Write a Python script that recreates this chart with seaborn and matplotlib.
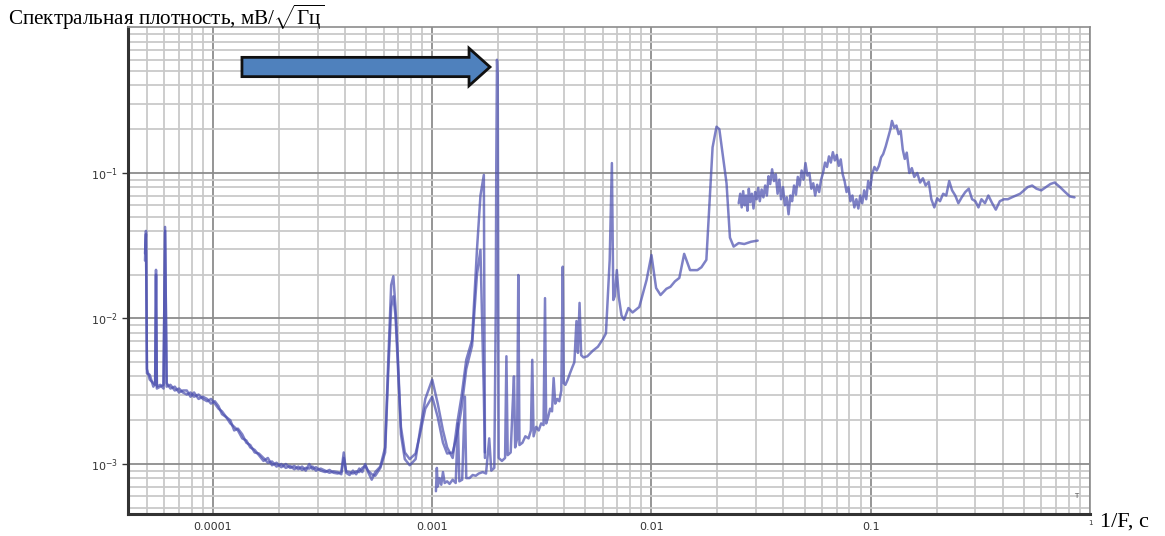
import numpy as np
import pandas as pd
import matplotlib
matplotlib.use('Agg')
import matplotlib.pyplot as plt
import matplotlib.ticker as mticker
from matplotlib.patches import FancyArrow
import seaborn as sns

# low-period part, two overlapping records
low_x = [4.90e-5, 4.95e-5, 5.00e-5, 5.15e-5, 5.35e-5, 5.45e-5, 5.50e-5, 5.55e-5, 5.75e-5, 5.95e-5,
         6.05e-5, 6.15e-5, 6.4e-5, 6.7e-5, 7.0e-5, 7.3e-5, 7.6e-5, 7.9e-5, 8.2e-5, 8.6e-5,
         9.0e-5, 9.4e-5, 9.8e-5, 1.02e-4, 1.06e-4, 1.10e-4, 1.15e-4, 1.20e-4, 1.25e-4, 1.30e-4,
         1.36e-4, 1.42e-4, 1.48e-4, 1.55e-4, 1.62e-4, 1.70e-4, 1.78e-4, 1.86e-4, 1.95e-4, 2.05e-4,
         2.15e-4, 2.25e-4, 2.35e-4, 2.45e-4, 2.55e-4, 2.65e-4, 2.75e-4, 2.85e-4, 2.95e-4, 3.1e-4,
         3.25e-4, 3.4e-4, 3.55e-4, 3.7e-4, 3.85e-4, 3.95e-4, 4.05e-4, 4.2e-4, 4.35e-4, 4.5e-4,
         4.65e-4, 4.8e-4, 4.95e-4, 5.1e-4, 5.3e-4, 5.5e-4, 5.8e-4, 6.1e-4, 6.3e-4, 6.5e-4,
         6.65e-4, 6.8e-4, 7.0e-4, 7.2e-4, 7.5e-4, 7.9e-4, 8.4e-4, 8.8e-4, 9.3e-4, 1.0e-3,
         1.06e-3, 1.12e-3, 1.17e-3, 1.24e-3, 1.30e-3, 1.36e-3, 1.43e-3, 1.52e-3, 1.60e-3, 1.66e-3,
         1.72e-3, 1.74e-3]
low_a = [0.025, 0.040, 0.0045, 0.0038, 0.0036, 0.0035, 0.0216, 0.0034, 0.0035, 0.0033,
         0.0426, 0.0034, 0.0035, 0.0032, 0.0033, 0.0031, 0.0030, 0.0031, 0.0029, 0.0030,
         0.0028, 0.0027, 0.0028, 0.0026, 0.0024, 0.0023, 0.0021, 0.0019, 0.0018, 0.0017,
         0.0015, 0.00145, 0.0013, 0.00125, 0.00115, 0.00105, 0.0011, 0.00098, 0.00102, 0.00095,
         0.0010, 0.00094, 0.00097, 0.00092, 0.00096, 0.00090, 0.0010, 0.00092, 0.00095, 0.00090,
         0.00088, 0.00091, 0.00087, 0.00086, 0.00088, 0.0012, 0.00087, 0.00084, 0.00090, 0.00085,
         0.00093, 0.00088, 0.0010, 0.00088, 0.00078, 0.00088, 0.00096, 0.0013, 0.0050, 0.0170,
         0.0195, 0.0120, 0.0048, 0.0016, 0.00108, 0.00098, 0.00108, 0.0017, 0.0028, 0.0038,
         0.0026, 0.0017, 0.0013, 0.0011, 0.0019, 0.0029, 0.0052, 0.0071, 0.0296, 0.0700,
         0.0970, 0.0012]
low_b = [0.028, 0.038, 0.0042, 0.0041, 0.0034, 0.0036, 0.0200, 0.0033, 0.0034, 0.0035,
         0.0400, 0.0036, 0.0033, 0.0034, 0.0031, 0.0032, 0.0032, 0.0029, 0.0031, 0.0028,
         0.0029, 0.0028, 0.0026, 0.0027, 0.0025, 0.0022, 0.0021, 0.0020, 0.0017, 0.00175,
         0.0016, 0.0014, 0.00135, 0.0012, 0.00118, 0.0011, 0.00102, 0.00104, 0.00096, 0.0010,
         0.00094, 0.00097, 0.00092, 0.00096, 0.00091, 0.00094, 0.00093, 0.00096, 0.00090, 0.00093,
         0.00090, 0.00087, 0.00089, 0.00088, 0.00085, 0.0011, 0.00089, 0.00088, 0.00086, 0.00089,
         0.00088, 0.00094, 0.00097, 0.00090, 0.00085, 0.00083, 0.00094, 0.0012, 0.0042, 0.0120,
         0.0142, 0.0105, 0.0042, 0.0018, 0.0012, 0.00108, 0.00118, 0.0016, 0.0024, 0.0029,
         0.0021, 0.0014, 0.00118, 0.0012, 0.0016, 0.0024, 0.0045, 0.0065, 0.0200, 0.0296,
         0.0030, 0.0011]

# middle record
mid_x = [1.04e-3, 1.05e-3, 1.06e-3, 1.08e-3, 1.10e-3, 1.12e-3, 1.14e-3, 1.17e-3, 1.20e-3, 1.24e-3,
         1.28e-3, 1.31e-3, 1.33e-3, 1.37e-3, 1.41e-3, 1.43e-3, 1.48e-3, 1.53e-3, 1.58e-3, 1.63e-3,
         1.70e-3, 1.76e-3, 1.82e-3, 1.86e-3, 1.92e-3, 1.95e-3, 1.96e-3, 1.975e-3, 1.99e-3, 2.01e-3,
         2.08e-3, 2.15e-3, 2.18e-3, 2.21e-3, 2.28e-3, 2.33e-3, 2.36e-3, 2.39e-3, 2.44e-3, 2.47e-3,
         2.50e-3, 2.58e-3, 2.66e-3, 2.75e-3, 2.82e-3, 2.86e-3, 2.90e-3, 2.98e-3, 3.06e-3, 3.14e-3,
         3.22e-3, 3.27e-3, 3.31e-3, 3.38e-3, 3.45e-3, 3.52e-3, 3.58e-3, 3.64e-3, 3.72e-3, 3.80e-3,
         3.88e-3, 3.94e-3, 3.98e-3, 4.05e-3, 4.15e-3, 4.25e-3, 4.35e-3, 4.45e-3, 4.55e-3, 4.62e-3,
         4.70e-3, 4.78e-3, 4.90e-3, 5.1e-3, 5.4e-3, 5.7e-3, 6.0e-3, 6.2e-3, 6.45e-3, 6.6e-3,
         6.7e-3, 6.8e-3, 6.95e-3, 7.1e-3, 7.3e-3, 7.5e-3, 7.85e-3, 8.2e-3, 8.8e-3, 9.5e-3,
         1.0e-2, 1.05e-2, 1.10e-2, 1.17e-2, 1.22e-2, 1.28e-2, 1.34e-2, 1.41e-2, 1.50e-2, 1.62e-2,
         1.69e-2, 1.78e-2, 1.90e-2, 1.98e-2, 2.04e-2, 2.20e-2, 2.28e-2, 2.37e-2, 2.50e-2, 2.65e-2,
         2.85e-2, 3.05e-2]
mid_y = [6.5e-4, 9.4e-4, 7.0e-4, 8.0e-4, 7.2e-4, 8.8e-4, 7.4e-4, 7.6e-4, 7.3e-4, 7.8e-4,
         7.4e-4, 1.9e-3, 7.6e-4, 7.8e-4, 2.9e-3, 8.0e-4, 8.0e-4, 8.4e-4, 8.3e-4, 8.6e-4,
         8.8e-4, 8.6e-4, 1.5e-3, 9.0e-4, 9.4e-4, 0.012, 0.11, 0.60, 0.45, 1.1e-3,
         1.05e-3, 1.1e-3, 5.5e-3, 1.15e-3, 1.2e-3, 2.6e-3, 4.0e-3, 1.3e-3, 1.5e-3, 0.0199,
         1.35e-3, 1.4e-3, 1.55e-3, 1.5e-3, 1.7e-3, 5.2e-3, 1.55e-3, 1.8e-3, 1.7e-3, 1.9e-3,
         1.85e-3, 0.0138, 1.9e-3, 2.1e-3, 2.4e-3, 2.3e-3, 3.9e-3, 2.6e-3, 2.8e-3, 2.7e-3,
         3.2e-3, 0.0227, 3.6e-3, 3.5e-3, 3.8e-3, 4.2e-3, 4.6e-3, 5.0e-3, 9.6e-3, 5.8e-3,
         0.0128, 5.6e-3, 5.4e-3, 5.5e-3, 6.0e-3, 6.4e-3, 7.2e-3, 7.9e-3, 0.0253, 0.117,
         0.0134, 0.0142, 0.0215, 0.0140, 0.0105, 0.0098, 0.0118, 0.0110, 0.0120, 0.0184,
         0.0273, 0.0162, 0.0145, 0.0160, 0.0165, 0.0180, 0.0190, 0.0278, 0.0215, 0.0215,
         0.0225, 0.0253, 0.150, 0.208, 0.200, 0.085, 0.036, 0.0312, 0.0330, 0.0325,
         0.0337, 0.0343]

# long-period record
hi_x = [0.0250, 0.0254, 0.0258, 0.0262, 0.0266, 0.0270, 0.0274, 0.0278, 0.0282, 0.0287,
        0.0292, 0.0297, 0.0302, 0.0307, 0.0312, 0.0318, 0.0324, 0.0330, 0.0336, 0.0342,
        0.0348, 0.0355, 0.0362, 0.0369, 0.0376, 0.0383, 0.0390, 0.0398, 0.0406, 0.0414,
        0.0422, 0.0430, 0.0438, 0.0447, 0.0456, 0.0465, 0.0474, 0.0484, 0.0494, 0.0504,
        0.0514, 0.0525, 0.0536, 0.0547, 0.0558, 0.0570, 0.0582, 0.0594, 0.0606, 0.0619,
        0.0632, 0.0645, 0.0658, 0.0672, 0.0686, 0.0700, 0.0715, 0.0730, 0.0745, 0.0760,
        0.0776, 0.0792, 0.0808, 0.0825, 0.0842, 0.0860, 0.0878, 0.0896, 0.0915, 0.0934,
        0.0954, 0.0974, 0.0994, 0.1015, 0.1040, 0.1065, 0.1090, 0.1115, 0.1140, 0.1170,
        0.1200, 0.1230, 0.1250, 0.1280, 0.1310, 0.1340, 0.1370, 0.1400, 0.1430, 0.1460,
        0.1500, 0.1540, 0.1580, 0.1630, 0.1680, 0.1730, 0.1780, 0.1840, 0.1890, 0.1950,
        0.2010, 0.2070, 0.2140, 0.2210, 0.2280, 0.2350, 0.2430, 0.2510, 0.2600, 0.2700,
        0.2800, 0.2900, 0.3000, 0.3100, 0.3200, 0.3320, 0.3440, 0.3580, 0.3720, 0.3880,
        0.4050, 0.4220, 0.4400, 0.4600, 0.4800, 0.5000, 0.5200, 0.5450, 0.5700, 0.6000,
        0.6300, 0.6600, 0.6900, 0.7300, 0.7700, 0.8100, 0.8500]
hi_y = [0.062, 0.072, 0.058, 0.075, 0.060, 0.070, 0.055, 0.078, 0.063, 0.072,
        0.057, 0.074, 0.066, 0.079, 0.064, 0.077, 0.068, 0.082, 0.070, 0.095,
        0.084, 0.106, 0.088, 0.098, 0.072, 0.090, 0.066, 0.080, 0.060, 0.068,
        0.052, 0.070, 0.064, 0.082, 0.071, 0.094, 0.082, 0.104, 0.090, 0.117,
        0.096, 0.100, 0.078, 0.085, 0.070, 0.083, 0.074, 0.090, 0.100, 0.118,
        0.110, 0.130, 0.118, 0.139, 0.122, 0.133, 0.112, 0.124, 0.098, 0.088,
        0.074, 0.080, 0.064, 0.070, 0.058, 0.066, 0.057, 0.070, 0.062, 0.076,
        0.066, 0.088, 0.078, 0.098, 0.110, 0.104, 0.112, 0.128, 0.135, 0.152,
        0.175, 0.200, 0.228, 0.205, 0.212, 0.185, 0.195, 0.145, 0.125, 0.138,
        0.100, 0.108, 0.094, 0.100, 0.086, 0.092, 0.082, 0.087, 0.066, 0.058,
        0.067, 0.064, 0.072, 0.070, 0.088, 0.076, 0.070, 0.062, 0.068, 0.074,
        0.078, 0.066, 0.064, 0.058, 0.066, 0.062, 0.070, 0.062, 0.056, 0.064,
        0.066, 0.066, 0.068, 0.070, 0.072, 0.076, 0.080, 0.082, 0.078, 0.076,
        0.080, 0.084, 0.086, 0.080, 0.074, 0.069, 0.068]

x_ticks = [1e-4, 1e-3, 1e-2, 1e-1]
x_tick_labels = ['0.0001', '0.001', '0.01', '0.1']
y_ticks = [1e-3, 1e-2, 1e-1]
y_tick_labels = [r'$10^{-3}$', r'$10^{-2}$', r'$10^{-1}$']

sns.set_style('white')
plt.rcParams['font.family'] = ['DejaVu Sans']
plt.rcParams['mathtext.fontset'] = 'dejavusans'

fig = plt.figure(figsize=(11.65, 5.36), dpi=100)
ax = fig.add_axes([0.1099, 0.041, 0.9356 - 0.1099, 0.9487 - 0.041])

line_color = '#4d51b0'
for xs, ys in [(low_x, low_a), (low_x, low_b), (mid_x, mid_y), (hi_x, hi_y)]:
    df = pd.DataFrame({'x': xs, 'y': ys})
    sns.lineplot(data=df, x='x', y='y', ax=ax, estimator=None, sort=False,
                 color=line_color, lw=1.8, alpha=0.72)

ax.set_xscale('log')
ax.set_yscale('log')
ax.set_xlim(4.1e-5, 1.0)
ax.set_ylim(4.53e-4, 1.0)

ax.xaxis.set_major_locator(mticker.FixedLocator(x_ticks))
ax.xaxis.set_major_formatter(mticker.FixedFormatter(x_tick_labels))
ax.yaxis.set_major_locator(mticker.FixedLocator(y_ticks))
ax.yaxis.set_major_formatter(mticker.FixedFormatter(y_tick_labels))
ax.xaxis.set_minor_locator(mticker.LogLocator(base=10, subs=np.arange(2, 10), numticks=20))
ax.yaxis.set_minor_locator(mticker.LogLocator(base=10, subs=np.arange(2, 10), numticks=20))
ax.xaxis.set_minor_formatter(mticker.NullFormatter())
ax.yaxis.set_minor_formatter(mticker.NullFormatter())

ax.grid(which='minor', color='#c9c9c9', lw=1.3)
ax.grid(which='major', color='#8c8c8c', lw=1.3)
ax.axvline(1.0, color='#8c8c8c', lw=1.3)
ax.set_axisbelow(True)

ax.tick_params(axis='x', which='major', length=0, pad=6, labelsize=8, labelcolor='#333333')
ax.tick_params(axis='y', which='major', length=4, width=1, color='#333333', pad=3,
               labelsize=8, labelcolor='#333333', left=True)
ax.tick_params(which='minor', length=0)

for side in ['left', 'bottom']:
    ax.spines[side].set_color('#333333')
    ax.spines[side].set_linewidth(2.2)
for side in ['top', 'right']:
    ax.spines[side].set_color('#8c8c8c')
    ax.spines[side].set_linewidth(1.2)

ax.set_xlabel('')
ax.set_ylabel('')

ax.text(1.0, -0.012, '1', transform=ax.transAxes, ha='center', va='top', fontsize=5, color='#333333')
ax.text(0.986, 0.03, 'T', transform=ax.transAxes, ha='center', va='bottom', fontsize=5, color='#555555')

# block arrow pointing at the main peak
arrow = FancyArrow(0.2077, 0.875, 0.2129, 0.0, width=0.036, head_width=0.07,
                   head_length=0.018, length_includes_head=True, transform=fig.transFigure,
                   facecolor='#4f81bd', edgecolor='#111111', lw=2.0)
fig.patches.append(arrow)

plt.rcParams['mathtext.fontset'] = 'custom'
plt.rcParams['mathtext.rm'] = 'Liberation Serif'
plt.rcParams['mathtext.it'] = 'Liberation Serif:italic'
fig.text(0.0069, 0.953, r'Спектральная плотность, мВ/$\sqrt{\mathrm{Гц}}$',
         family='Liberation Serif', fontsize=15.2, ha='left', va='baseline', color='black')
fig.text(0.944, 0.018, '1/F, с', family='Liberation Serif', fontsize=16,
         ha='left', va='baseline', color='black')

fig.savefig('out.png', dpi=100)
